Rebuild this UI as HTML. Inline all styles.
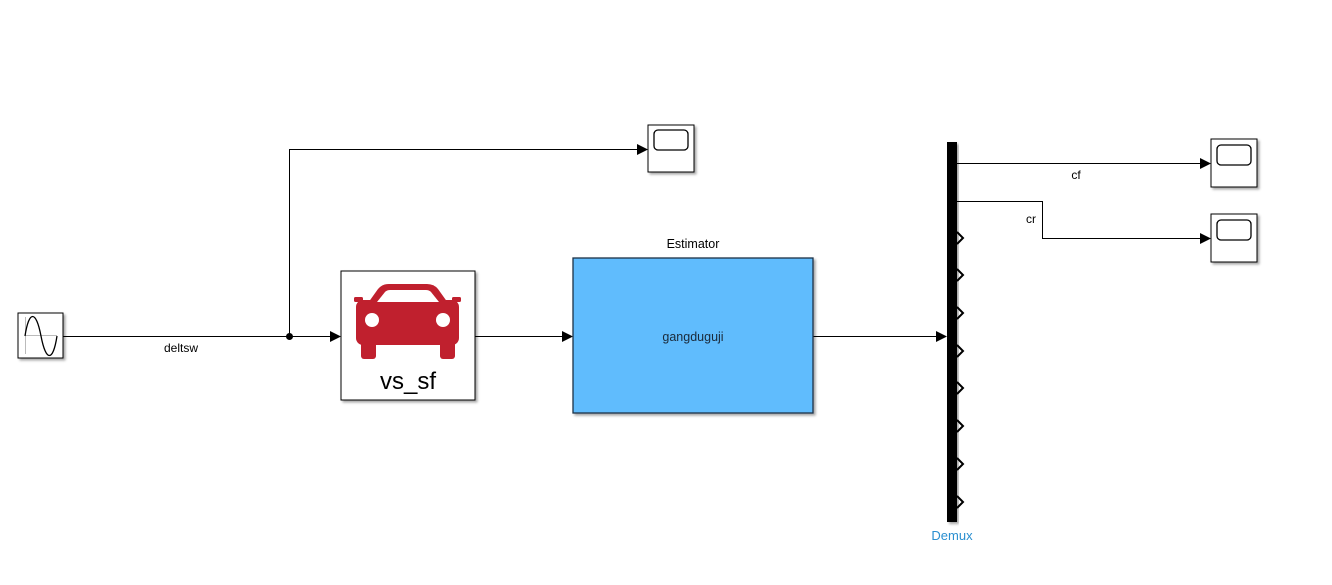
<!DOCTYPE html>
<html><head><meta charset="utf-8"><style>
html,body{margin:0;padding:0;background:#fff;}
svg{display:block;font-family:"Liberation Sans",sans-serif;}
</style></head><body>
<svg width="1332" height="585" viewBox="0 0 1332 585" xmlns="http://www.w3.org/2000/svg">
<defs>
<filter id="sh" x="-10%" y="-10%" width="130%" height="130%"><feDropShadow dx="2" dy="2" stdDeviation="1.2" flood-color="#000" flood-opacity="0.35"/></filter>
</defs>
<rect x="18" y="313" width="45" height="45" fill="#fff" stroke="#000" stroke-width="1" filter="url(#sh)"/>
<line x1="25" y1="335.5" x2="57" y2="335.5" stroke="#bbb"/>
<line x1="25.5" y1="317" x2="25.5" y2="354" stroke="#bbb"/>
<path d="M25,336 C29,310 36,310 41,336 C46,362 53,362 57,336" fill="none" stroke="#000" stroke-width="1.3"/>
<g stroke="#000" stroke-width="1" fill="none">
<line x1="63" y1="336.5" x2="332" y2="336.5"/>
<polyline points="289.5,336 289.5,149.5 638,149.5"/>
<line x1="475" y1="336.5" x2="563" y2="336.5"/>
<line x1="813" y1="336.5" x2="937" y2="336.5"/>
<line x1="957" y1="163.5" x2="1201" y2="163.5"/>
<polyline points="957,201.5 1042.5,201.5 1042.5,238.5 1201,238.5"/>
</g>
<circle cx="289.5" cy="336.5" r="3.5" fill="#000"/>
<g fill="#000">
<polygon points="330,331 341,336.5 330,342"/>
<polygon points="637,144 648,149.5 637,155"/>
<polygon points="562,331 573,336.5 562,342"/>
<polygon points="936,331 947,336.5 936,342"/>
<polygon points="1200,158 1211,163.5 1200,169"/>
<polygon points="1200,233 1211,238.5 1200,244"/>
</g>
<text x="181" y="352" font-size="12" text-anchor="middle">deltsw</text>
<text x="1076" y="179" font-size="12" text-anchor="middle">cf</text>
<text x="1031" y="223" font-size="12" text-anchor="middle">cr</text>
<g filter="url(#sh)">
<rect x="648" y="125" width="46" height="47" fill="#fff" stroke="#000"/>
<rect x="1211" y="139" width="46" height="48" fill="#fff" stroke="#000"/>
<rect x="1211" y="214" width="46" height="48" fill="#fff" stroke="#000"/>
</g>
<g fill="none" stroke="#000" stroke-width="1.3">
<rect x="654" y="130" width="34" height="20" rx="4"/>
<rect x="1217" y="145" width="34" height="20" rx="4"/>
<rect x="1217" y="220" width="34" height="20" rx="4"/>
</g>
<rect x="341" y="271" width="134" height="129" fill="#fff" stroke="#000" filter="url(#sh)"/>
<g fill="#c0202e">
<path d="M368,303 L378,289 Q382,284 389,284 L427,284 Q434,284 438,289 L448,303 Z"/>
<rect x="356" y="300" width="103" height="45" rx="7"/>
<rect x="361" y="340" width="15" height="19" rx="3"/>
<rect x="440" y="340" width="15" height="19" rx="3"/>
<rect x="354" y="297" width="9" height="5" rx="1.5"/>
<rect x="452" y="297" width="9" height="5" rx="1.5"/>
</g>
<path d="M377,302 L385,292 Q387,290 390,290 L426,290 Q429,290 431,292 L439,302 Z" fill="#fff"/>
<circle cx="372" cy="320" r="7" fill="#fff"/>
<circle cx="443" cy="320" r="7" fill="#fff"/>
<text x="408" y="389" font-size="24" text-anchor="middle">vs_sf</text>
<text x="693" y="248" font-size="12.5" text-anchor="middle">Estimator</text>
<rect x="573" y="258" width="240" height="155" fill="#60bcfd" stroke="#1c3346" stroke-width="1.3" filter="url(#sh)"/>
<text x="693" y="341" font-size="12.5" text-anchor="middle" fill="#1a2a3a">gangduguji</text>
<rect x="947" y="142" width="10" height="380" fill="#000" filter="url(#sh)"/>
<g fill="none" stroke="#000" stroke-width="2">
<polyline points="957,232 963,238 957,244"/>
<polyline points="957,269 963,275 957,281"/>
<polyline points="957,307 963,313 957,319"/>
<polyline points="957,345 963,351 957,357"/>
<polyline points="957,382 963,388 957,394"/>
<polyline points="957,420 963,426 957,432"/>
<polyline points="957,458 963,464 957,470"/>
<polyline points="957,496 963,502 957,508"/>
</g>
<text x="952" y="540" font-size="13" text-anchor="middle" fill="#2a8fd0">Demux</text>
</svg>
</body></html>
